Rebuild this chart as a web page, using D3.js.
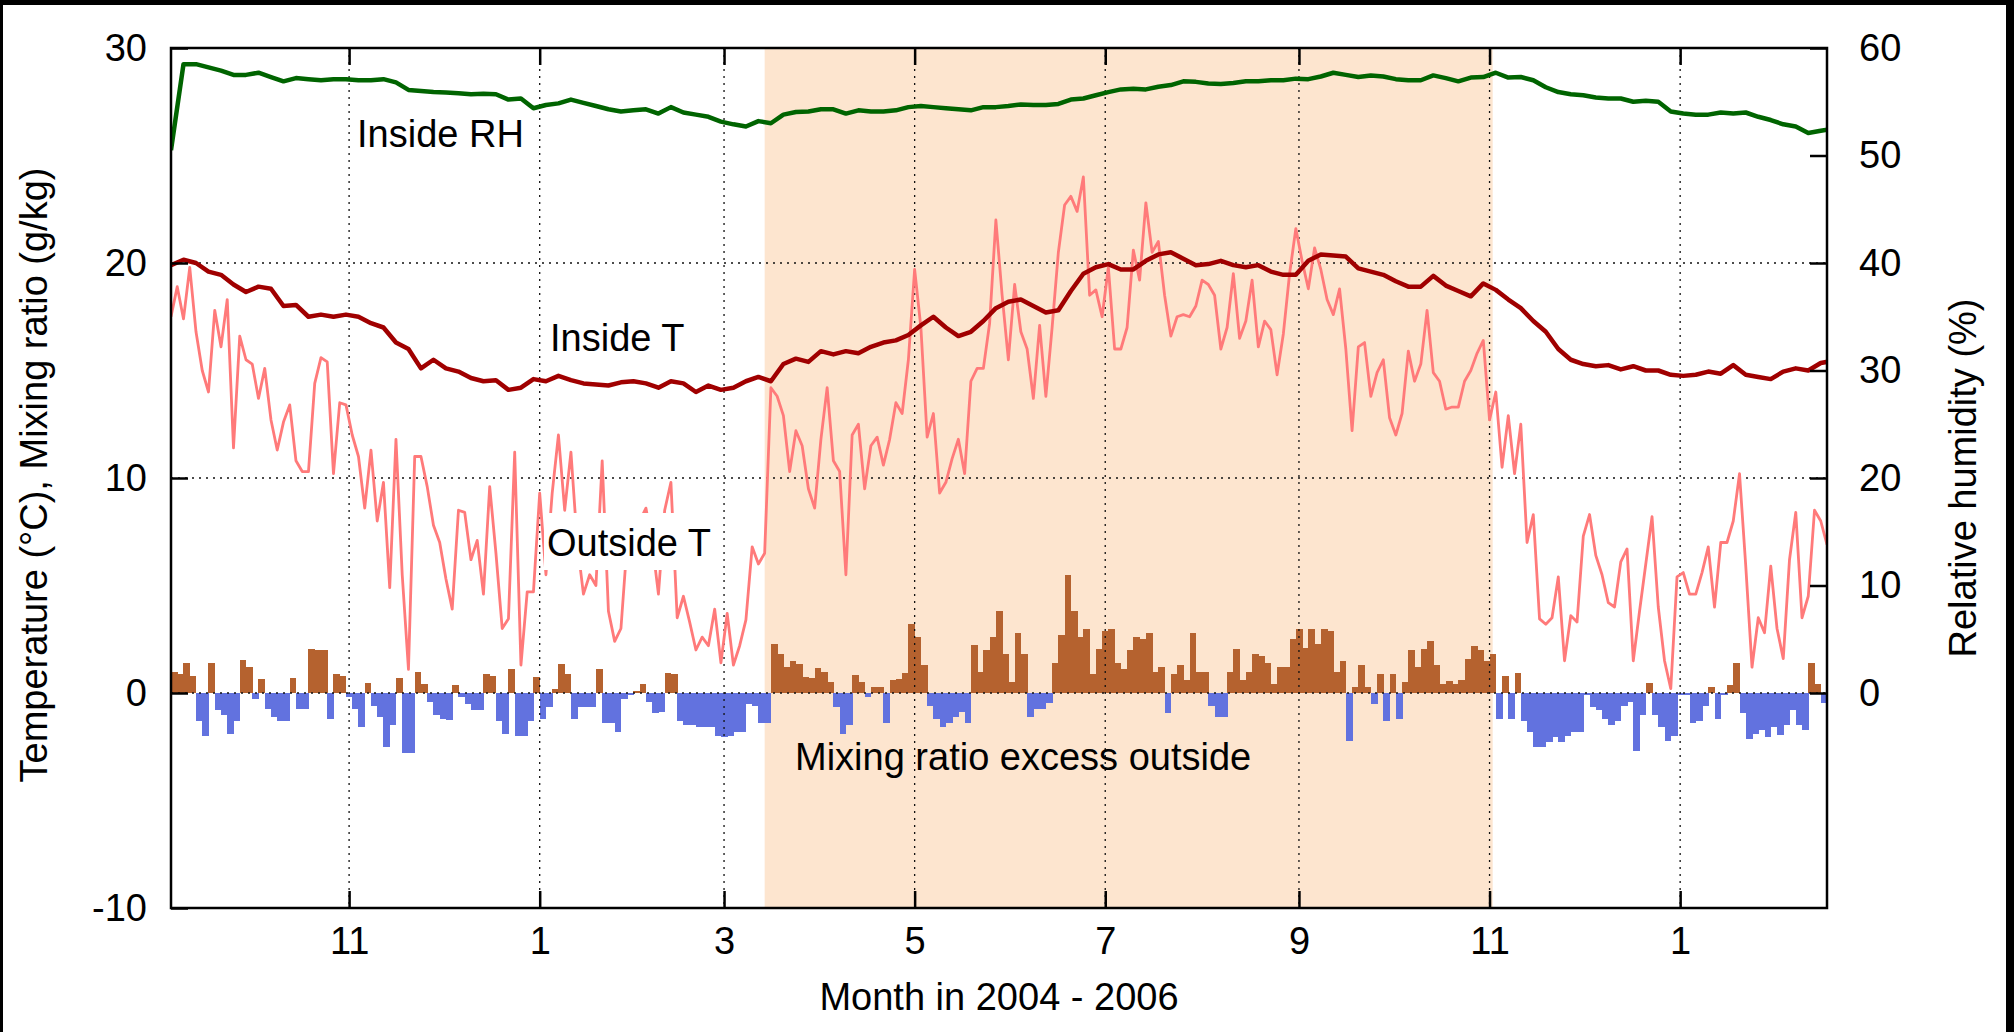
<!DOCTYPE html>
<html>
<head>
<meta charset="utf-8">
<script src="https://cdn.jsdelivr.net/npm/d3@7"></script>
<style>
  html, body { margin: 0; padding: 0; background: #000; }
  svg { display: block; }
  text { font-family: "Liberation Sans", Arial, Helvetica, sans-serif; }
</style>
</head>
<body>
<svg id="chart" width="2014" height="1032"></svg>
<script>
// Time base: first sample day and end of the x range
const seriesStart = '2004-09-05';
const seriesEnd = '2006-02-17';
const lineStep = 4;   // days between samples of the inside series
const dailyStep = 2;  // days between samples of outside T and the excess bars

// Inside relative humidity (%), right axis, every 4 days
const insideRH = [
  50.5, 58.5, 58.5, 58.2, 57.9, 57.5, 57.5, 57.7, 57.3, 56.9,
  57.2, 57.1, 57.0, 57.1, 57.1, 57.0, 57.0, 57.1, 56.8, 56.1,
  56.0, 55.9, 55.85, 55.8, 55.7, 55.75, 55.7, 55.2, 55.3, 54.4,
  54.7, 54.85, 55.2, 54.9, 54.6, 54.3, 54.1, 54.2, 54.3, 53.9,
  54.5, 54.0, 53.8, 53.6, 53.15, 52.9, 52.7, 53.2, 53.0, 53.8,
  54.05, 54.1, 54.3, 54.3, 53.9, 54.2, 54.1, 54.1, 54.2, 54.5,
  54.6, 54.5, 54.4, 54.3, 54.2, 54.5, 54.5, 54.6, 54.75, 54.7,
  54.7, 54.8, 55.2, 55.3, 55.6, 55.9, 56.15, 56.2, 56.15, 56.4,
  56.55, 56.9, 56.85, 56.7, 56.65, 56.75, 56.9, 56.9, 57.0, 57.0,
  57.15, 57.1, 57.35, 57.7, 57.5, 57.3, 57.45, 57.35, 57.1, 57.0,
  57.0, 57.45, 57.2, 56.9, 57.25, 57.3, 57.7, 57.25, 57.3, 57.0,
  56.35, 55.9, 55.7, 55.6, 55.4, 55.3, 55.3, 55.0, 55.1, 55.0,
  54.1, 53.9, 53.8, 53.8, 54.0, 53.9, 54.0, 53.6, 53.3, 52.9,
  52.7, 52.1, 52.3, 52.5
];

// Inside temperature (°C), every 4 days
const insideT = [
  19.9, 20.15, 20.0, 19.6, 19.45, 19.0, 18.65, 18.9, 18.8, 18.0,
  18.05, 17.5, 17.6, 17.5, 17.6, 17.5, 17.2, 17.0, 16.3, 16.0,
  15.1, 15.5, 15.1, 14.95, 14.65, 14.5, 14.55, 14.1, 14.2, 14.6,
  14.5, 14.75, 14.55, 14.4, 14.35, 14.3, 14.45, 14.5, 14.4, 14.2,
  14.5, 14.4, 14.0, 14.3, 14.1, 14.2, 14.5, 14.7, 14.5, 15.3,
  15.55, 15.4, 15.9, 15.75, 15.9, 15.8, 16.1, 16.3, 16.4, 16.65,
  17.1, 17.5, 17.0, 16.6, 16.8, 17.3, 17.9, 18.2, 18.3, 18.0,
  17.7, 17.8, 18.7, 19.5, 19.8, 19.95, 19.7, 19.7, 20.1, 20.4,
  20.5, 20.2, 19.9, 19.95, 20.1, 19.9, 19.8, 19.9, 19.6, 19.45,
  19.45, 20.1, 20.4, 20.35, 20.3, 19.75, 19.6, 19.45, 19.15, 18.9,
  18.9, 19.4, 18.95, 18.7, 18.45, 19.05, 18.75, 18.3, 17.9, 17.3,
  16.8, 16.0, 15.5, 15.3, 15.2, 15.25, 15.05, 15.2, 15.0, 15.0,
  14.8, 14.75, 14.8, 14.95, 14.85, 15.25, 14.8, 14.7, 14.6, 14.95,
  15.1, 15.0, 15.35, 15.45
];

// Outside temperature (°C), every 2 days
const outsideT = [
  17.5, 18.9, 17.4, 19.8, 16.8, 15.0, 14.0, 17.8, 16.1, 18.3,
  11.4, 16.6, 15.5, 15.3, 13.7, 15.1, 12.7, 11.3, 12.6, 13.4,
  10.8, 10.3, 10.3, 14.4, 15.6, 15.4, 10.2, 13.5, 13.4, 12.0,
  11.0, 8.6, 11.3, 8.0, 9.8, 4.9, 11.8, 5.5, 1.1, 11.0,
  11.0, 9.6, 7.8, 7.0, 5.3, 3.9, 8.5, 8.4, 6.2, 7.1,
  4.6, 9.6, 6.5, 3.0, 3.45, 11.2, 1.3, 4.7, 4.7, 9.3,
  5.5, 9.3, 12.0, 8.5, 11.2, 7.0, 4.6, 5.5, 5.0, 10.8,
  3.8, 2.4, 3.0, 7.0, 7.5, 8.0, 8.6, 7.0, 4.6, 8.5,
  9.8, 3.5, 4.5, 3.3, 2.0, 2.6, 2.2, 3.9, 1.4, 3.7,
  1.3, 2.2, 3.4, 6.8, 6.0, 6.5, 14.2, 13.8, 12.9, 10.3,
  12.2, 11.5, 9.5, 8.6, 11.8, 14.2, 10.8, 10.3, 5.5, 12.0,
  12.5, 9.5, 11.5, 11.9, 10.6, 11.8, 13.5, 13.0, 15.5, 19.7,
  17.0, 11.9, 13.0, 9.3, 9.8, 10.9, 11.8, 10.2, 14.5, 15.1,
  15.1, 17.2, 22.0, 18.5, 15.5, 19.0, 16.8, 16.0, 13.7, 17.1,
  13.8, 17.0, 20.5, 22.7, 23.1, 22.4, 24.0, 18.5, 18.75, 17.5,
  19.8, 16.0, 16.0, 17.0, 20.6, 19.2, 22.8, 20.5, 21.0, 18.5,
  16.6, 17.5, 17.6, 17.5, 18.0, 19.2, 19.0, 18.5, 16.0, 17.0,
  19.5, 16.5, 17.3, 19.2, 16.1, 17.3, 16.9, 14.8, 16.7, 19.5,
  21.6, 20.1, 18.8, 20.7, 19.7, 18.3, 17.6, 18.8, 16.0, 12.2,
  16.1, 16.3, 13.8, 14.9, 15.5, 12.8, 12.0, 13.0, 15.9, 14.5,
  15.3, 17.8, 14.9, 14.5, 13.2, 13.3, 13.3, 14.5, 15.0, 15.8,
  16.4, 12.7, 14.0, 10.5, 12.9, 10.2, 12.5, 7.0, 8.3, 3.45,
  3.2, 3.5, 5.4, 1.5, 3.6, 3.3, 7.3, 8.3, 6.4, 5.5,
  4.2, 4.0, 6.1, 6.7, 1.5, 3.8, 6.0, 8.2, 4.0, 1.5,
  0.2, 5.4, 5.6, 4.6, 4.6, 5.6, 6.8, 4.0, 7.0, 7.0,
  8.0, 10.2, 5.9, 1.2, 3.5, 2.8, 5.9, 3.0, 1.6, 6.2,
  8.4, 3.5, 4.5, 8.5, 8.0, 6.9
];

// Mixing ratio excess outside (g/kg), every 2 days
const mixingExcess = [
  1.0, 0.9, 1.4, 0.8, -1.3, -2.0, 1.4, -0.8, -1.0, -1.9,
  -1.3, 1.55, 1.2, -0.3, 0.65, -0.75, -1.1, -1.3, -1.3, 0.7,
  -0.75, -0.75, 2.05, 2.0, 2.0, -1.2, 0.9, 0.8, -0.2, -0.75,
  -1.6, 0.45, -0.6, -1.1, -2.5, -1.5, 0.7, -2.8, -2.8, 1.0,
  0.4, -0.4, -1.0, -1.2, -1.25, 0.35, -0.2, -0.5, -0.8, -0.8,
  0.9, 0.8, -1.3, -1.9, 1.1, -2.0, -2.0, -1.3, 0.75, -1.2,
  -0.65, 0.2, 1.35, 0.9, -1.2, -0.65, -0.65, -0.65, 1.1, -1.4,
  -1.4, -1.8, -0.3, -0.1, 0.1, 0.4, -0.4, -0.95, -0.9, 0.95,
  0.9, -1.3, -1.5, -1.5, -1.6, -1.6, -1.6, -2.0, -2.05, -2.0,
  -1.8, -1.8, -0.5, -0.6, -1.4, -1.4, 2.3, 1.8, 1.2, 1.5,
  1.35, 0.75, 0.7, 1.15, 1.0, 0.5, -0.65, -1.9, -1.5, 0.85,
  0.5, -0.2, 0.3, 0.3, -1.4, 0.6, 0.65, 0.95, 3.2, 2.6,
  1.3, -0.6, -1.2, -1.6, -1.4, -1.1, -0.9, -1.4, 2.25, 1.0,
  2.0, 2.6, 3.8, 1.8, 0.5, 2.8, 1.8, -1.1, -0.75, -0.75,
  -0.45, 1.4, 2.7, 5.5, 3.8, 2.6, 3.0, 0.9, 2.05, 2.9,
  3.0, 1.4, 1.1, 2.0, 2.6, 2.5, 2.8, 1.0, 1.2, -0.95,
  0.9, 1.3, 0.6, 2.8, 1.0, 1.0, -0.6, -1.1, -1.1, 1.0,
  2.05, 0.6, 1.0, 1.8, 1.7, 1.4, 0.4, 1.2, 1.2, 2.5,
  3.0, 2.1, 3.0, 2.3, 3.0, 2.9, 1.0, 1.5, -2.25, 0.3,
  1.3, 0.3, -0.5, 0.9, -1.3, 0.9, -1.2, 0.5, 2.0, 1.2,
  2.05, 2.4, 1.3, 0.4, 0.55, 0.4, 0.6, 1.6, 2.2, 2.0,
  1.5, 1.8, -1.2, 0.8, -1.2, 0.95, -1.3, -1.8, -2.5, -2.5,
  -2.3, -2.05, -2.3, -2.0, -1.8, -1.8, -0.1, -0.65, -0.8, -1.2,
  -1.5, -1.3, -0.6, -0.4, -2.7, -1.0, 0.45, -1.0, -1.6, -2.25,
  -2.0, -0.1, -0.1, -1.4, -1.3, -0.6, 0.3, -1.2, -0.1, 0.35,
  1.4, -0.95, -2.15, -1.9, -1.7, -2.05, -1.6, -1.95, -1.5, -0.8,
  -1.5, -1.7, 1.4, 0.4, -0.45, -0.3
];

// Axis ticks
const monthTicks = ['2004-11-01', '2005-01-01', '2005-03-01', '2005-05-01',
                    '2005-07-01', '2005-09-01', '2005-11-01', '2006-01-01'];
const tempTicks = [-10, 0, 10, 20, 30];
const rhTicks = [0, 10, 20, 30, 40, 50, 60];
const tempGrid = [0, 10, 20];

// Shaded warm season
const shadeSpan = ['2005-03-14', '2005-11-02'];

const W = 2014, H = 1032;
const plot = { left: 171, right: 1827, top: 48, bottom: 908 };
const FONT = 38;

const parse = d3.utcParse('%Y-%m-%d');
const t0 = parse(seriesStart);
const dayAt = d => d3.utcDay.offset(t0, d);

const x = d3.scaleUtc()
  .domain([t0, parse(seriesEnd)])
  .range([plot.left, plot.right]);
const y = d3.scaleLinear().domain([-10, 30]).range([plot.bottom, plot.top]);
const yRH = d3.scaleLinear().domain([0, 60]).range([y(0), y(30)]);

const svg = d3.select('#chart');

// black frame round the picture
svg.append('rect').attr('width', W).attr('height', H).attr('fill', '#000');
svg.append('rect').attr('x', 3).attr('y', 5)
  .attr('width', 2003).attr('height', H - 5).attr('fill', '#fff');

svg.append('defs').append('clipPath').attr('id', 'plot-clip')
  .append('rect')
  .attr('x', plot.left).attr('y', plot.top)
  .attr('width', plot.right - plot.left).attr('height', plot.bottom - plot.top);

const g = svg.append('g').attr('clip-path', 'url(#plot-clip)');

// shaded season
g.append('rect')
  .attr('x', x(parse(shadeSpan[0])))
  .attr('width', x(parse(shadeSpan[1])) - x(parse(shadeSpan[0])))
  .attr('y', plot.top)
  .attr('height', plot.bottom - plot.top)
  .attr('fill', '#fde5cf');

// mixing ratio excess bars
g.append('g')
  .attr('shape-rendering', 'crispEdges')
  .selectAll('rect')
  .data(mixingExcess)
  .join('rect')
  .attr('x', (d, i) => x(dayAt(i * dailyStep)))
  .attr('width', (d, i) => x(dayAt((i + 1) * dailyStep)) - x(dayAt(i * dailyStep)) + 0.5)
  .attr('y', d => y(Math.max(d, 0)))
  .attr('height', d => Math.abs(y(d) - y(0)))
  .attr('fill', d => d >= 0 ? '#b5622f' : '#6272df');

// dotted grid
const gridStyle = sel => sel
  .attr('stroke', '#111')
  .attr('stroke-width', 1.3)
  .attr('stroke-dasharray', '2,5');

g.append('g').selectAll('line')
  .data(monthTicks.map(parse))
  .join('line')
  .attr('x1', d => x(d)).attr('x2', d => x(d))
  .attr('y1', plot.top).attr('y2', plot.bottom)
  .call(gridStyle);

g.append('g').selectAll('line')
  .data(tempGrid)
  .join('line')
  .attr('x1', plot.left).attr('x2', plot.right)
  .attr('y1', d => y(d)).attr('y2', d => y(d))
  .call(gridStyle);

// lines
const lineOf = (step, scale) => d3.line()
  .x((d, i) => x(dayAt(i * step)))
  .y(d => scale(d));

g.append('path')
  .datum(insideRH)
  .attr('d', lineOf(lineStep, yRH))
  .attr('fill', 'none')
  .attr('stroke', '#006400')
  .attr('stroke-width', 4.5)
  .attr('stroke-linejoin', 'round');

g.append('path')
  .datum(outsideT)
  .attr('d', lineOf(dailyStep, y))
  .attr('fill', 'none')
  .attr('stroke', '#ff7a7a')
  .attr('stroke-width', 2.8)
  .attr('stroke-linejoin', 'round');

g.append('path')
  .datum(insideT)
  .attr('d', lineOf(lineStep, y))
  .attr('fill', 'none')
  .attr('stroke', '#a00000')
  .attr('stroke-width', 4.5)
  .attr('stroke-linejoin', 'round');

// in-plot labels
const label = (txt, lx, ly) => svg.append('text')
  .attr('x', lx).attr('y', ly)
  .attr('font-size', FONT)
  .attr('fill', '#000')
  .text(txt);

svg.append('rect')
  .attr('x', 544).attr('y', 513)
  .attr('width', 168).attr('height', 57)
  .attr('fill', '#fff');

label('Inside RH', 357, 147);
label('Inside T', 550, 351);
label('Outside T', 547, 556);
label('Mixing ratio excess outside', 795, 770);

// axes
const styleAxis = sel => {
  sel.select('.domain').remove();
  sel.selectAll('.tick line').attr('stroke', '#000').attr('stroke-width', 2.5);
  sel.selectAll('.tick text').attr('font-size', FONT).attr('fill', '#000')
    .attr('font-family', '"Liberation Sans", Arial, Helvetica, sans-serif');
};

const monthDates = monthTicks.map(parse);
const plainNumber = d => String(d);

svg.append('g')
  .attr('transform', `translate(0,${plot.bottom})`)
  .call(d3.axisBottom(x).tickValues(monthDates)
    .tickFormat(d3.utcFormat('%-m')).tickSizeInner(-17).tickSizeOuter(0).tickPadding(19))
  .call(styleAxis);

svg.append('g')
  .attr('transform', `translate(0,${plot.top})`)
  .call(d3.axisTop(x).tickValues(monthDates)
    .tickFormat('').tickSizeInner(-17).tickSizeOuter(0))
  .call(styleAxis);

svg.append('g')
  .attr('transform', `translate(${plot.left},0)`)
  .call(d3.axisLeft(y).tickValues(tempTicks).tickFormat(plainNumber)
    .tickSizeInner(-17).tickSizeOuter(0).tickPadding(24))
  .call(styleAxis);

svg.append('g')
  .attr('transform', `translate(${plot.right},0)`)
  .call(d3.axisRight(yRH).tickValues(rhTicks).tickFormat(plainNumber)
    .tickSizeInner(-17).tickSizeOuter(0).tickPadding(32))
  .call(styleAxis);

// plot border
svg.append('rect')
  .attr('x', plot.left).attr('y', plot.top)
  .attr('width', plot.right - plot.left)
  .attr('height', plot.bottom - plot.top)
  .attr('fill', 'none')
  .attr('stroke', '#000')
  .attr('stroke-width', 2.5);

// axis titles
svg.append('text')
  .attr('transform', 'translate(47,475) rotate(-90)')
  .attr('text-anchor', 'middle')
  .attr('font-size', FONT)
  .text('Temperature (°C), Mixing ratio (g/kg)');

svg.append('text')
  .attr('transform', 'translate(1976,478) rotate(-90)')
  .attr('text-anchor', 'middle')
  .attr('font-size', FONT)
  .text('Relative humidity (%)');

svg.append('text')
  .attr('x', (plot.left + plot.right) / 2)
  .attr('y', 1010)
  .attr('text-anchor', 'middle')
  .attr('font-size', FONT)
  .text('Month in 2004 - 2006');
</script>
</body>
</html>
